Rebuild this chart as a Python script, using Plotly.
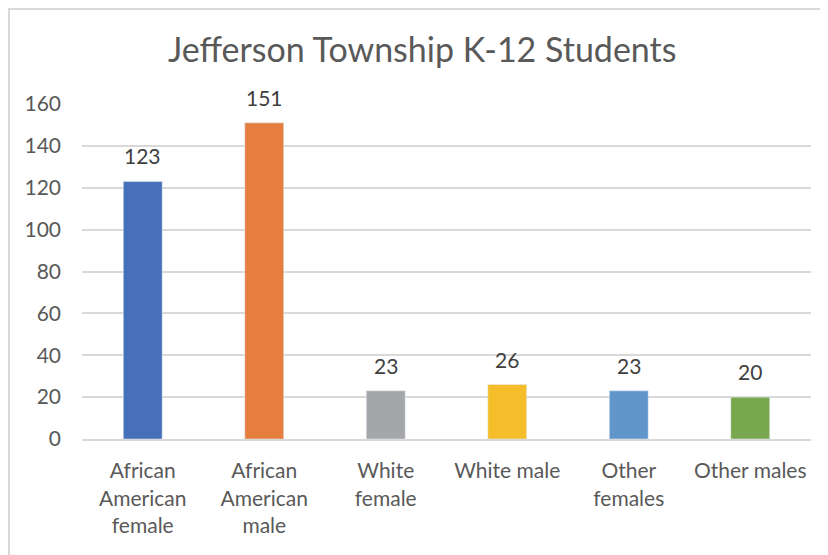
import plotly.graph_objects as go

categories = ["African<br>American<br>female", "African<br>American<br>male", "White<br>female",
              "White male", "Other<br>females", "Other males"]
values = [123, 151, 23, 26, 23, 20]
colors = ["#4670B8", "#E57E3E", "#A5A6A9", "#F6BD2B", "#6096CA", "#77A74E"]
y_ticks = [0, 20, 40, 60, 80, 100, 120, 140, 160]

# page is offset by the 8px body margin; figure coordinates below
W, H = 820, 547
L, R, T, B = 74, 17, 96, 116
pw, ph = W - L - R, H - T - B

def px(x):
    return (x - L) / pw

def py(y):
    return (H - B - y) / ph

FONT = "Lato"
TXT = "#595959"

fig = go.Figure(go.Bar(
    x=categories, y=values, marker_color=colors,
    cliponaxis=False, hoverinfo="x+y",
))

annotations = [dict(text="Jefferson Township K-12 Students", x=px(414), y=py(40),
                    xref="paper", yref="paper", showarrow=False,
                    xanchor="center", yanchor="middle",
                    font=dict(family=FONT, size=34, color=TXT))]
for c, v in zip(categories, values):
    annotations.append(dict(x=c, y=v, xref="x", yref="y", text=str(v), showarrow=False,
                            xanchor="center", yanchor="bottom", yshift=11,
                            font=dict(family=FONT, size=21, color="#404040")))

fig.update_layout(
    width=W, height=H,
    margin=dict(l=L, r=R, t=T, b=B),
    paper_bgcolor="white", plot_bgcolor="white",
    bargap=0.68,
    showlegend=False,
    font=dict(family=FONT, color=TXT),
    xaxis=dict(showgrid=False, showline=True, linecolor="#d9d9d9", linewidth=2,
               tickfont=dict(family=FONT, size=21, color=TXT), ticks="",
               ticklabelstandoff=12),
    yaxis=dict(range=[0, 160], tickvals=y_ticks, showgrid=True, gridcolor="#d9d9d9",
               gridwidth=1.5, zeroline=False, showline=False, ticks="",
               tickfont=dict(family=FONT, size=21, color=TXT), ticklabelstandoff=20),
    annotations=annotations,
    shapes=[dict(type="rect", xref="paper", yref="paper",
                 x0=px(1), x1=px(840), y0=py(565), y1=py(1),
                 line=dict(color="#d9d9d9", width=2), fillcolor="rgba(0,0,0,0)", layer="below")],
)

fig.write_html("out.html")
